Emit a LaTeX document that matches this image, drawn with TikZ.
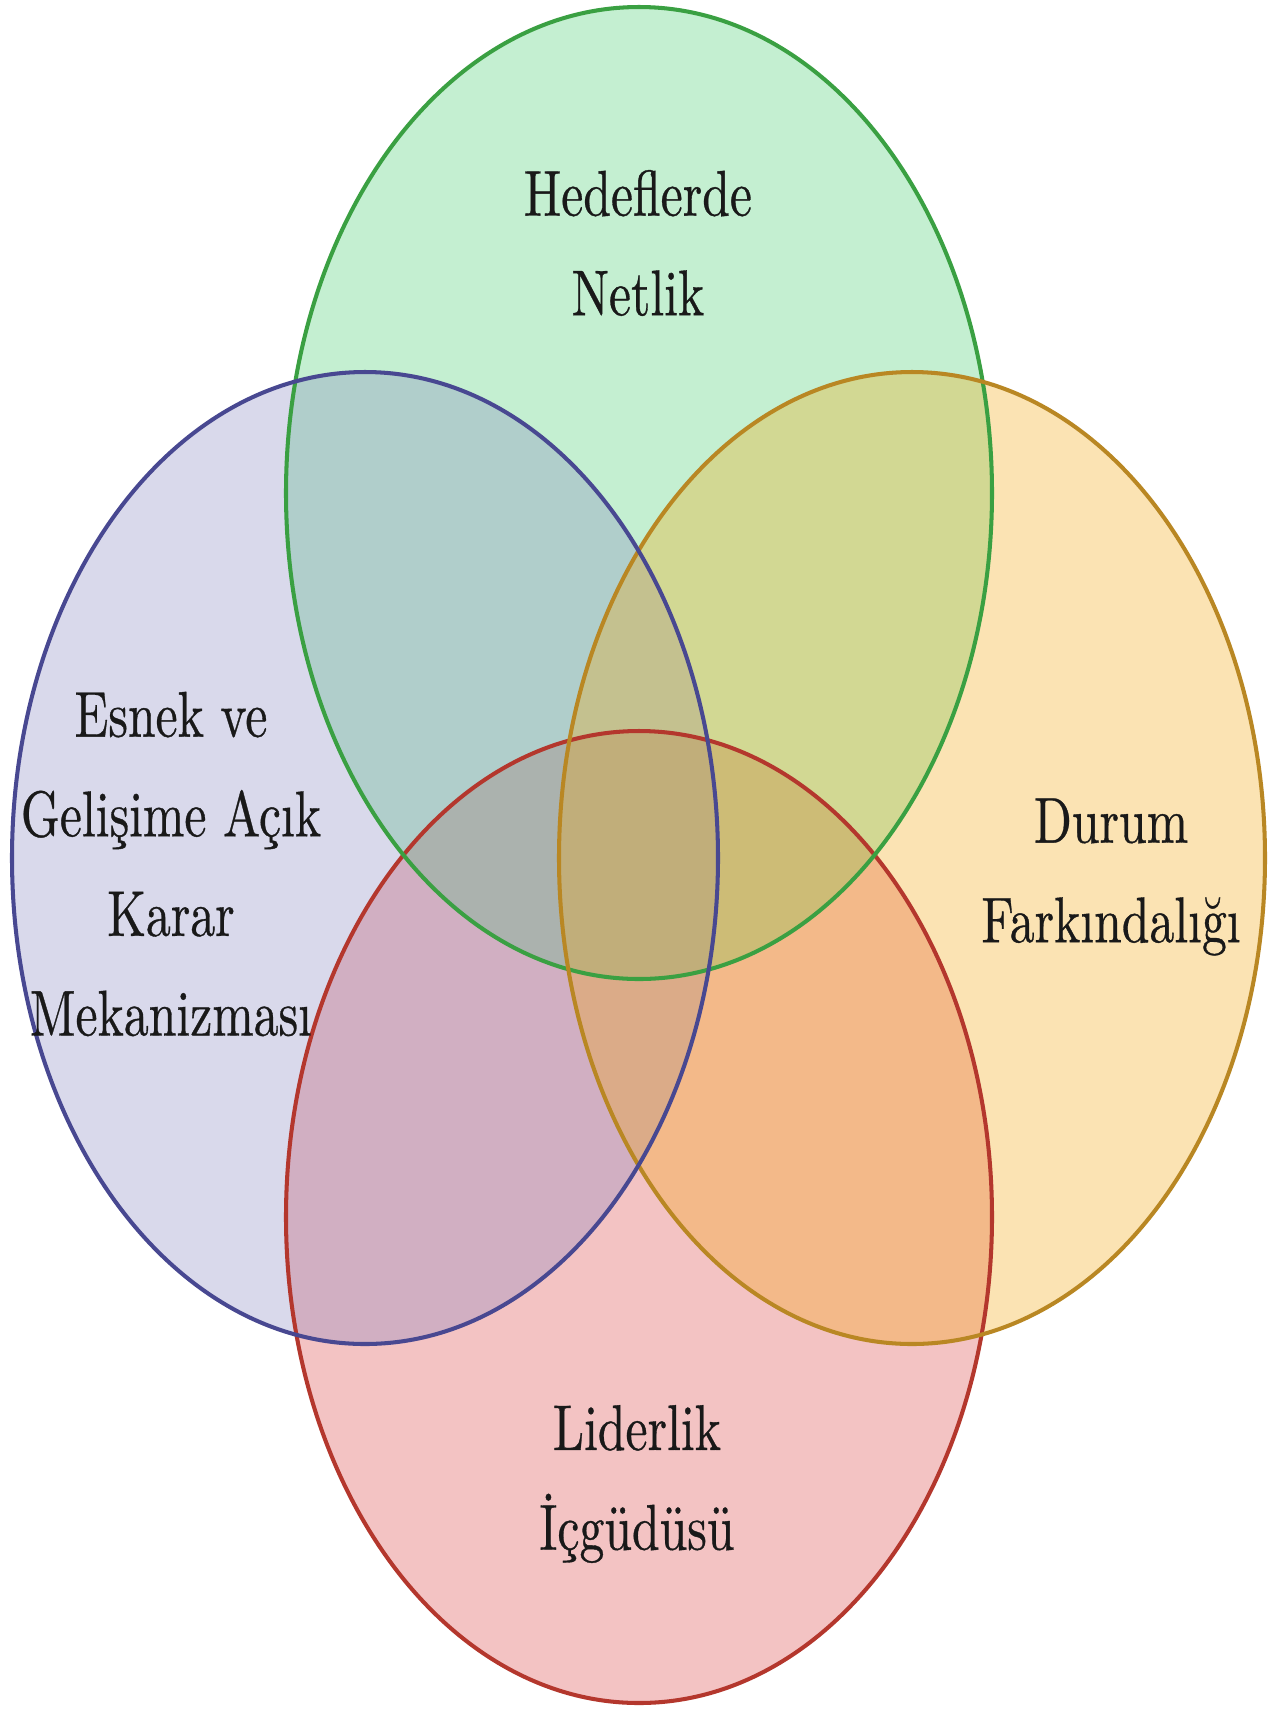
\documentclass[tikz,border=0pt]{standalone}
\usepackage{fontspec}
\usepackage{tikz}
\usetikzlibrary{positioning}
\newfontfamily\lblfont{lmroman10-regular.otf}[FakeBold=0.6]
\definecolor{cGoal}{RGB}{62,205,105}
\definecolor{cFlex}{RGB}{132,132,192}
\definecolor{cAware}{RGB}{245,165,5}
\definecolor{cLead}{RGB}{218,58,58}
\definecolor{eGoal}{RGB}{58,160,66}
\definecolor{eFlex}{RGB}{72,72,145}
\definecolor{eAware}{RGB}{185,135,35}
\definecolor{eLead}{RGB}{180,55,45}
\tikzset{
  blob/.style={fill opacity=.3},
  rim/.style={line width=2.3pt},
  lbl/.style={align=center,inner sep=0pt,text=black!90,
    font=\lblfont\fontsize{28.3pt}{56.7pt}\selectfont},
}
\newcommand{\tl}[1]{\scalebox{1}[1.3]{#1}}

\begin{document}
\begin{tikzpicture}[x=0.02cm,y=-0.02cm]
  \useasboundingbox (0,0) rectangle (1285,1712);
  \fill[white] (0,0) rectangle (1285,1712);
  % the four sets, red one at the back
  \fill[blob,cLead]  (639,1217) ellipse [x radius=353,y radius=486];
  \fill[blob,cGoal]  (639,493)  ellipse [x radius=353,y radius=486];
  \fill[blob,cFlex]  (365,858)  ellipse [x radius=353,y radius=486];
  \fill[blob,cAware] (912,858)  ellipse [x radius=353,y radius=486];
  % outlines on top
  \draw[rim,eLead]  (639,1217) ellipse [x radius=353,y radius=486];
  \draw[rim,eGoal]  (639,493)  ellipse [x radius=353,y radius=486];
  \draw[rim,eAware] (912,858)  ellipse [x radius=353,y radius=486];
  \draw[rim,eFlex]  (365,858)  ellipse [x radius=353,y radius=486];
  % labels
  \node[lbl] (goal)  at (638,243)  {\tl{Hedeflerde}\\\tl{Netlik}};
  \node[lbl] (flex)  at (171,864)  {\tl{Esnek ve}\\\tl{Gelişime Açık}\\\tl{Karar}\\\tl{Mekanizması}};
  \node[lbl] (aware) at (1111,877) {\tl{Durum}\\\tl{Farkındalığı}};
  \node[lbl] (lead)  at (637,1484) {\tl{Liderlik}\\\tl{İçgüdüsü}};
\end{tikzpicture}
\end{document}
